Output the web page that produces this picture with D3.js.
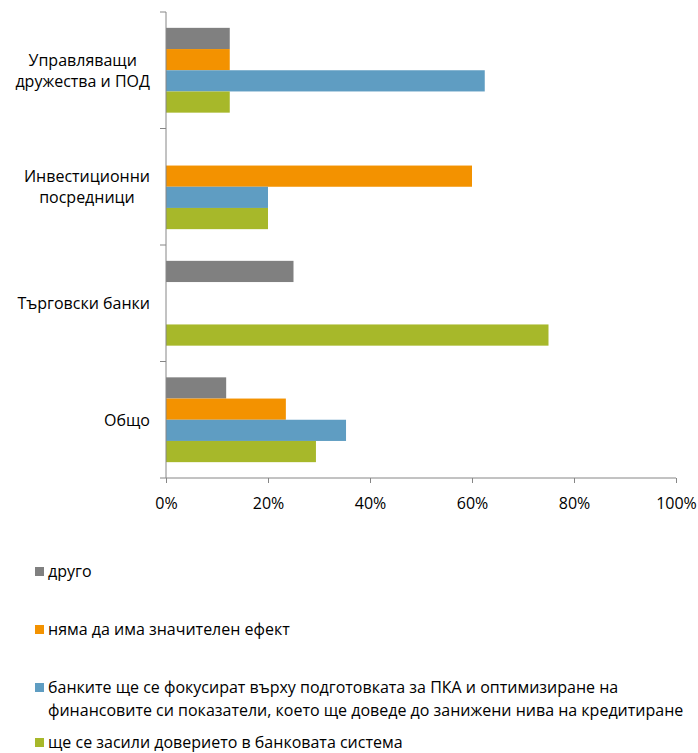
<!DOCTYPE html>
<html><head><meta charset="utf-8">
<script src="https://cdn.jsdelivr.net/npm/d3@7"></script>
<style>body{margin:0;background:#fff}text{font-family:"Open Sans",sans-serif;fill:#000}</style>
</head><body><svg id="c" width="698" height="753"></svg>
<script>
const categories = [["Управляващи","дружества и ПОД"],["Инвестиционни","посредници"],["Търговски банки"],["Общо"]];
const seriesNames = ["друго","няма да има значителен ефект","банките ще се фокусират върху подготовката за ПКА и оптимизиране на|финансовите си показатели, което ще доведе до занижени нива на кредитиране","ще се засили доверието в банковата система"];
const seriesColors = ["#808080","#F39200","#5F9DC2","#A7B82A"];
const other = [12.5, 0, 25, 11.8];
const noEffect = [12.5, 60, 0, 23.5];
const banksFocus = [62.5, 20, 0, 35.3];
const trust = [12.5, 20, 75, 29.4];
const xTicks = [0,20,40,60,80,100];
const series = [other, noEffect, banksFocus, trust];

const svg = d3.select("#c");
const x = d3.scaleLinear().domain([0,100]).range([166,676]);
const y = d3.scaleBand().domain(d3.range(categories.length)).range([12,478]);
const inner = d3.scaleBand().domain(d3.range(series.length)).range([y.bandwidth()*0.136, y.bandwidth()*0.864]);
const axisColor = "#868686";
const FS = 16;

series.forEach((vals, si) => {
  svg.append("g").selectAll("rect").data(vals).join("rect")
    .attr("x", x(0)).attr("y", (d,i) => y(i) + inner(si))
    .attr("width", d => x(d) - x(0)).attr("height", inner.bandwidth())
    .attr("fill", seriesColors[si]);
});

const ya = svg.append("g");
ya.append("line").attr("x1",x(0)).attr("x2",x(0)).attr("y1",12).attr("y2",478).attr("stroke",axisColor);
d3.range(categories.length+1).forEach(i => {
  const yy = i < categories.length ? y(i) : 478;
  ya.append("line").attr("x1",x(0)-6).attr("x2",x(0)).attr("y1",yy).attr("y2",yy).attr("stroke",axisColor);
});
categories.forEach((lines, i) => {
  const cy = y(i) + y.bandwidth()/2;
  const t = svg.append("text").attr("font-size",FS).attr("text-anchor","middle");
  const lh = 21;
  lines.forEach((l, k) => {
    t.append("tspan").attr("x", 0).attr("y", cy + (k - (lines.length-1)/2)*lh + 6).text(l);
  });
  const bb = t.node().getBBox();
  t.selectAll("tspan").attr("x", 150 - bb.width/2);
});

const xa = svg.append("g").attr("transform","translate(0,478)")
  .call(d3.axisBottom(x).tickValues(xTicks).tickFormat(d => d + "%").tickSize(5).tickPadding(15));
xa.select(".domain").attr("stroke",axisColor).attr("d", `M${x(0)},0H${x(100)}`);
xa.selectAll(".tick line").attr("stroke",axisColor);
xa.selectAll("text").attr("font-size",FS).attr("font-family","'Open Sans',sans-serif");

const legendY = [572, 630, 688, 743];
seriesNames.forEach((n, i) => {
  const g = svg.append("g");
  g.append("rect").attr("x",35).attr("y",legendY[i]-5).attr("width",9).attr("height",9).attr("fill",seriesColors[i]);
  const t = g.append("text").attr("font-size",FS);
  n.split("|").forEach((l,k) => t.append("tspan").attr("x",48).attr("y",legendY[i]+5+k*23).text(l));
});
</script></body></html>
